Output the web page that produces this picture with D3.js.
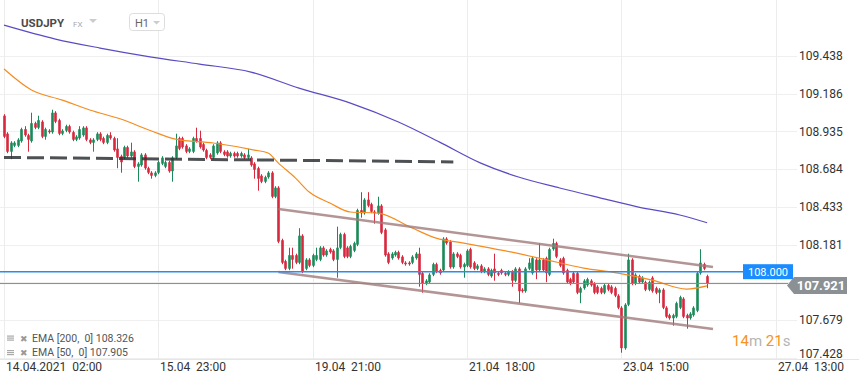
<!DOCTYPE html>
<html>
<head>
<meta charset="utf-8">
<script src="https://cdn.jsdelivr.net/npm/d3@7"></script>
<style>
body { margin: 0; background: #fff; }
svg { display: block; font-family: Roboto, "Noto Sans", sans-serif; }
</style>
</head>
<body>
<script>
// USDJPY H1 candles (one per hour, weekends skipped)
var opens = [
 109.04,108.92,108.80,108.84,108.84,108.87,108.95,108.91,108.87,108.99,108.96,109.00,108.90,108.94,108.93,109.06,109.01,108.92,108.94,108.97,108.93,108.88,108.89,108.91,108.96,108.88,108.86,108.88,108.92,108.89,108.86,108.91,108.89,108.82,
 108.77,108.76,108.83,108.77,108.80,108.70,108.71,108.78,108.69,108.66,108.64,108.66,108.72,108.70,108.73,108.67,108.76,108.89,108.89,108.84,108.80,108.80,108.89,108.89,108.85,108.81,108.78,108.76,108.79,108.86,108.80,108.80,108.77,108.79,
 108.79,108.77,108.78,108.76,108.76,108.72,108.69,108.64,108.60,108.63,108.66,108.50,108.56,108.21,108.07,108.02,108.11,108.11,108.06,108.24,108.02,108.08,108.04,108.08,108.08,108.16,108.11,108.15,108.14,108.08,108.16,108.25,108.16,108.10,
 108.14,108.18,108.41,108.39,108.48,108.45,108.40,108.39,108.44,108.28,108.12,108.09,108.11,108.13,108.10,108.06,108.06,108.06,108.09,108.12,107.99,107.92,107.93,107.98,108.05,108.01,108.01,108.22,108.20,108.03,108.12,108.11,108.03,108.04,
 108.15,108.06,108.02,108.04,108.00,108.02,107.97,108.02,107.99,
 108.01,107.99,107.98,108.00,107.94,108.02,107.88,107.87,108.02,107.99,108.08,108.01,108.08,108.09,107.98,108.15,108.19,108.08,108.09,108.01,107.95,107.99,107.99,107.86,107.89,107.91,107.94,107.92,107.90,107.89,107.86,107.91,107.90,107.89,107.84,107.76,107.49,107.78,108.08,107.92,107.97,107.93,107.93,107.88,107.96,107.89,107.86,107.88,107.76,107.71,107.69,107.70,107.76,107.82,107.71,107.69,107.71,107.74,107.99,108.05,107.97
];
var highs = [
 109.05,108.93,108.87,108.87,108.89,108.96,108.97,108.92,109.06,109.00,109.04,109.01,108.96,108.95,109.08,109.07,109.02,108.95,108.98,108.98,108.94,108.91,108.97,108.97,108.97,108.89,108.89,108.93,108.93,108.90,108.92,108.93,108.90,108.89,
 108.78,108.84,108.84,108.86,108.81,108.73,108.79,108.79,108.70,108.67,108.67,108.74,108.77,108.74,108.74,108.77,108.92,108.90,108.90,108.85,108.83,108.90,108.96,108.94,108.86,108.82,108.79,108.85,108.87,108.87,108.81,108.81,108.80,108.80,
 108.80,108.80,108.79,108.82,108.77,108.73,108.70,108.65,108.64,108.67,108.67,108.57,108.57,108.22,108.08,108.16,108.16,108.12,108.29,108.25,108.09,108.09,108.12,108.16,108.17,108.17,108.15,108.16,108.15,108.30,108.26,108.26,108.17,108.18,
 108.20,108.42,108.53,108.49,108.53,108.46,108.41,108.50,108.45,108.29,108.13,108.13,108.14,108.14,108.11,108.07,108.07,108.11,108.13,108.16,108.00,107.95,107.99,108.06,108.06,108.02,108.23,108.23,108.21,108.13,108.13,108.12,108.06,108.15,
 108.16,108.07,108.05,108.05,108.03,108.03,108.02,108.12,108.00,
 108.02,108.00,108.01,108.01,108.03,108.03,107.89,108.03,108.09,108.10,108.09,108.19,108.09,108.10,108.16,108.22,108.20,108.09,108.10,108.02,107.96,108.00,108.00,107.90,107.95,107.96,107.95,107.93,107.91,107.90,107.92,107.92,107.91,107.90,107.85,107.77,107.79,108.12,108.09,107.99,107.98,107.97,107.94,107.94,107.97,107.90,107.89,107.89,107.77,107.72,107.72,107.80,107.84,107.83,107.72,107.73,107.77,108.00,108.15,108.06,107.98
];
var lows = [
 108.89,108.79,108.75,108.83,108.83,108.86,108.90,108.80,108.86,108.95,108.95,108.89,108.88,108.92,108.92,108.99,108.91,108.91,108.93,108.92,108.87,108.87,108.88,108.90,108.87,108.85,108.80,108.87,108.87,108.85,108.85,108.88,108.80,108.69,
 108.66,108.75,108.76,108.76,108.69,108.60,108.70,108.68,108.65,108.62,108.63,108.65,108.71,108.69,108.66,108.60,108.75,108.81,108.82,108.79,108.79,108.79,108.86,108.82,108.80,108.75,108.75,108.75,108.78,108.79,108.77,108.76,108.76,108.76,
 108.76,108.76,108.75,108.75,108.70,108.62,108.54,108.59,108.59,108.62,108.49,108.49,108.19,108.05,108.01,108.01,108.02,108.05,108.05,107.99,108.01,108.03,108.03,108.07,108.07,108.10,108.10,108.12,108.07,107.96,108.15,108.09,108.09,108.09,
 108.13,108.17,108.36,108.38,108.43,108.39,108.32,108.38,108.25,108.10,108.05,108.08,108.10,108.08,108.05,108.04,108.04,108.05,108.08,107.90,107.86,107.91,107.92,107.97,107.99,107.98,108.00,108.18,108.02,108.02,108.09,108.02,107.96,108.03,
 108.02,108.01,108.01,107.99,107.99,107.97,107.96,107.94,107.97,
 107.98,107.97,107.97,107.90,107.93,107.79,107.86,107.86,108.01,107.98,107.95,108.00,108.00,107.93,107.97,108.14,108.09,108.03,107.98,107.92,107.91,107.92,107.85,107.79,107.88,107.90,107.90,107.85,107.85,107.85,107.85,107.87,107.85,107.83,107.75,107.46,107.48,107.77,107.91,107.91,107.92,107.92,107.87,107.87,107.86,107.85,107.79,107.75,107.69,107.68,107.64,107.69,107.75,107.69,107.62,107.68,107.70,107.73,107.98,108.01,107.89
];
var closes = [
 108.90,108.80,108.86,108.86,108.88,108.95,108.91,108.88,108.99,108.96,109.01,108.90,108.95,108.93,109.06,109.00,108.92,108.94,108.97,108.93,108.88,108.90,108.95,108.96,108.88,108.86,108.88,108.92,108.88,108.86,108.91,108.89,108.81,108.76,
 108.73,108.83,108.77,108.80,108.70,108.72,108.78,108.69,108.66,108.64,108.66,108.73,108.76,108.73,108.67,108.76,108.84,108.82,108.83,108.80,108.82,108.89,108.87,108.83,108.81,108.76,108.76,108.84,108.86,108.80,108.78,108.77,108.79,108.77,
 108.77,108.79,108.76,108.78,108.71,108.68,108.62,108.60,108.63,108.66,108.50,108.56,108.20,108.06,108.02,108.11,108.08,108.06,108.24,108.00,108.08,108.04,108.11,108.11,108.16,108.11,108.14,108.13,108.08,108.16,108.25,108.10,108.10,108.17,
 108.19,108.41,108.39,108.48,108.44,108.40,108.39,108.44,108.26,108.11,108.06,108.12,108.13,108.09,108.06,108.05,108.05,108.10,108.12,107.98,107.92,107.94,107.98,108.05,108.00,107.99,108.22,108.19,108.03,108.12,108.10,108.03,108.05,108.14,
 108.03,108.02,108.04,108.00,108.02,107.98,108.01,107.99,107.98,
 107.99,107.98,108.00,107.94,108.02,107.87,107.87,108.02,108.06,108.09,108.01,108.08,108.01,107.99,108.15,108.19,108.10,108.04,107.99,107.93,107.92,107.93,107.86,107.89,107.94,107.95,107.91,107.86,107.86,107.86,107.91,107.88,107.86,107.84,107.76,107.49,107.78,108.08,107.92,107.98,107.93,107.96,107.88,107.93,107.87,107.86,107.88,107.76,107.70,107.69,107.71,107.79,107.83,107.70,107.69,107.72,107.76,107.99,108.06,108.02,107.92
];

// indicator lines (candle index, value)
var ema200Idx = [0,15,28,43,57,72,86,101,115,127,139,150,162,174,185,197,205];
var ema200 = [109.644,109.551,109.491,109.431,109.384,109.331,109.224,109.124,108.998,108.864,108.724,108.631,108.558,108.491,108.431,108.378,108.326];
var ema50Idx = [0,8,17,25,34,43,50,61,73,77,80,85,89,95,101,109,119,126,134,145,156,169,179,189,199,205];
var ema50 = [109.351,109.211,109.144,109.078,109.018,108.938,108.884,108.858,108.811,108.791,108.724,108.624,108.531,108.458,108.398,108.391,108.291,108.224,108.191,108.144,108.091,108.024,107.991,107.944,107.884,107.905];

// drawn lines
var dashIdx = [0, 131];
var dashVal = [108.762, 108.732];
var chanIdx = [80, 206.7];
var chanTop = [108.418, 108.031];
var chanBottom = [107.998, 107.618];

var alertLevel = 108.000;
var lastPrice = 107.921;

// 107.930 sits under the last-price tag, so it gets a grid line but no label
var priceTicks = [109.438,109.186,108.935,108.684,108.433,108.181,107.930,107.679,107.428];
var priceLabels = [109.438,109.186,108.935,108.684,108.433,108.181,107.679,107.428];
var timeTickIdx = [0,45,90,135,180,225];
var timeTickLabels = ["14.04.2021  02:00","15.04  23:00","19.04  21:00","21.04  18:00","23.04  15:00","27.04  13:00"];
var legendLabels = ["EMA [200,  0] 108.326","EMA [50,  0] 107.905"];

var width = 859, height = 385;
var up = "#1b8a58", down = "#d8283d";

var svg = d3.select("body").append("svg")
  .attr("width", width)
  .attr("height", height);

var x = d3.scaleLinear().domain([0, 225]).range([4, 4 + 225 * 3.43]);
var y = d3.scaleLinear().domain([107.428, 109.438]).range([357.5, 56]);

// grid
svg.selectAll(".hgrid").data(priceTicks).enter().append("line")
  .attr("x1", 0).attr("x2", 797)
  .attr("y1", function(d) { return Math.round(y(d)) + 0.5; })
  .attr("y2", function(d) { return Math.round(y(d)) + 0.5; })
  .attr("stroke", "#efefef");

svg.selectAll(".vgrid").data(timeTickIdx).enter().append("line")
  .attr("x1", function(d) { return Math.round(x(d)) + 0.5; })
  .attr("x2", function(d) { return Math.round(x(d)) + 0.5; })
  .attr("y1", 0).attr("y2", 359)
  .attr("stroke", "#ececec");

svg.append("line")
  .attr("x1", 0).attr("x2", width).attr("y1", 359.5).attr("y2", 359.5)
  .attr("stroke", "#e6e6e6");

// candles
var candle = svg.append("g").selectAll("g")
  .data(d3.range(opens.length))
  .enter().append("g");

candle.append("line")
  .attr("x1", function(i) { return Math.round(x(i)) + 0.5; })
  .attr("x2", function(i) { return Math.round(x(i)) + 0.5; })
  .attr("y1", function(i) { return y(highs[i]); })
  .attr("y2", function(i) { return y(lows[i]); })
  .attr("stroke", function(i) { return closes[i] >= opens[i] ? up : down; });

candle.append("rect")
  .attr("x", function(i) { return Math.round(x(i)) - 0.8; })
  .attr("width", 2.6)
  .attr("y", function(i) { return y(Math.max(opens[i], closes[i])); })
  .attr("height", function(i) { return Math.max(1, Math.abs(y(opens[i]) - y(closes[i]))); })
  .attr("fill", function(i) { return closes[i] >= opens[i] ? up : down; });

// EMAs
var emaLine = d3.line()
  .x(function(d) { return x(d[0]); })
  .y(function(d) { return y(d[1]); })
  .curve(d3.curveMonotoneX);

svg.append("path")
  .attr("d", emaLine(d3.zip(ema200Idx, ema200)))
  .attr("fill", "none").attr("stroke", "#5a4bc4").attr("stroke-width", 1.2);

svg.append("path")
  .attr("d", emaLine(d3.zip(ema50Idx, ema50)))
  .attr("fill", "none").attr("stroke", "#f68c1f").attr("stroke-width", 1.2);

// drawings
var straight = d3.line()
  .x(function(d) { return x(d[0]); })
  .y(function(d) { return y(d[1]); });

svg.append("path")
  .attr("d", straight(d3.zip(dashIdx, dashVal)))
  .attr("stroke", "#2f3336").attr("stroke-opacity", 0.85)
  .attr("stroke-width", 3).attr("stroke-dasharray", "17,6");

[chanTop, chanBottom].forEach(function(vals) {
  svg.append("path")
    .attr("d", straight(d3.zip(chanIdx, vals)))
    .attr("stroke", "#a07a7a").attr("stroke-opacity", 0.8)
    .attr("stroke-width", 2.5);
});

// price lines
svg.append("line")
  .attr("x1", 0).attr("x2", 743)
  .attr("y1", y(alertLevel)).attr("y2", y(alertLevel))
  .attr("stroke", "#2a8cf0").attr("stroke-width", 1.5);

svg.append("line")
  .attr("x1", 0).attr("x2", 788)
  .attr("y1", y(lastPrice)).attr("y2", y(lastPrice))
  .attr("stroke", "#8a8a8a").attr("stroke-width", 1);

// axis labels
svg.selectAll(".plabel").data(priceLabels).enter().append("text")
  .attr("x", 799)
  .attr("y", function(d) { return Math.min(y(d), 354); })
  .attr("dy", "0.35em")
  .attr("font-size", 12).attr("fill", "#333")
  .text(function(d) { return d.toFixed(3); });

svg.selectAll(".tlabel").data(timeTickIdx).enter().append("text")
  .attr("x", function(d) { return Math.round(x(d)) + 2; })
  .attr("y", 371)
  .attr("font-size", 12).attr("fill", "#333")
  .style("white-space", "pre")
  .text(function(d, i) { return timeTickLabels[i]; });

// alert tag
var ay = y(alertLevel);
svg.append("rect")
  .attr("x", 743).attr("y", ay - 7.5).attr("width", 50).attr("height", 15)
  .attr("fill", "#1a8cff");
svg.append("text")
  .attr("x", 768).attr("y", ay).attr("dy", "0.35em")
  .attr("text-anchor", "middle").attr("font-size", 11).attr("fill", "#fff")
  .text(alertLevel.toFixed(3));

// last price tag
var ly = y(lastPrice) + 2;
svg.append("path")
  .attr("d", "M787," + ly + "L794," + (ly - 8.5) + "L847," + (ly - 8.5) + "L847," + (ly + 8.5) + "L794," + (ly + 8.5) + "Z")
  .attr("fill", "#8b9094");
svg.append("text")
  .attr("x", 821).attr("y", ly).attr("dy", "0.36em")
  .attr("text-anchor", "middle").attr("font-size", 13).attr("font-weight", "bold").attr("fill", "#fff")
  .text(lastPrice.toFixed(3));

// candle timer
var timer = svg.append("text").attr("x", 732).attr("y", 346).attr("font-size", 15);
timer.append("tspan").attr("fill", "#f7931e").text("14");
timer.append("tspan").attr("fill", "#b5b5b5").text("m ");
timer.append("tspan").attr("fill", "#f7931e").text("21");
timer.append("tspan").attr("fill", "#b5b5b5").text("s");

// legend
legendLabels.forEach(function(t, i) {
  var by = 341.5 + i * 14.5;
  var g = svg.append("g");
  [0, 2, 4].forEach(function(k) {
    g.append("rect").attr("x", 7).attr("y", by - 6 + k).attr("width", 7).attr("height", 1.2).attr("fill", "#aaa");
  });
  g.append("text").attr("x", 20).attr("y", by).attr("font-size", 9).attr("fill", "#999").text("\u2716");
  g.append("text").attr("x", 32).attr("y", by)
    .attr("font-size", 10.5).attr("fill", "#555")
    .style("white-space", "pre")
    .text(t);
});

// header
svg.append("text").attr("x", 21).attr("y", 27)
  .attr("font-size", 11.5).attr("font-weight", "bold").attr("fill", "#4a4a4a")
  .text("USDJPY");
svg.append("text").attr("x", 73).attr("y", 27)
  .attr("font-size", 8).attr("fill", "#aaa").text("FX");
svg.append("path").attr("d", "M89,19L97,19L93,23Z").attr("fill", "#ccc");
svg.append("rect")
  .attr("x", 129.5).attr("y", 13.5).attr("width", 35).attr("height", 17).attr("rx", 3)
  .attr("fill", "#fff").attr("stroke", "#ddd");
svg.append("text").attr("x", 135).attr("y", 26.5)
  .attr("font-size", 11).attr("fill", "#666").text("H1");
svg.append("path").attr("d", "M153,21L160,21L156.5,24.5Z").attr("fill", "#ccc");
</script>
</body>
</html>
